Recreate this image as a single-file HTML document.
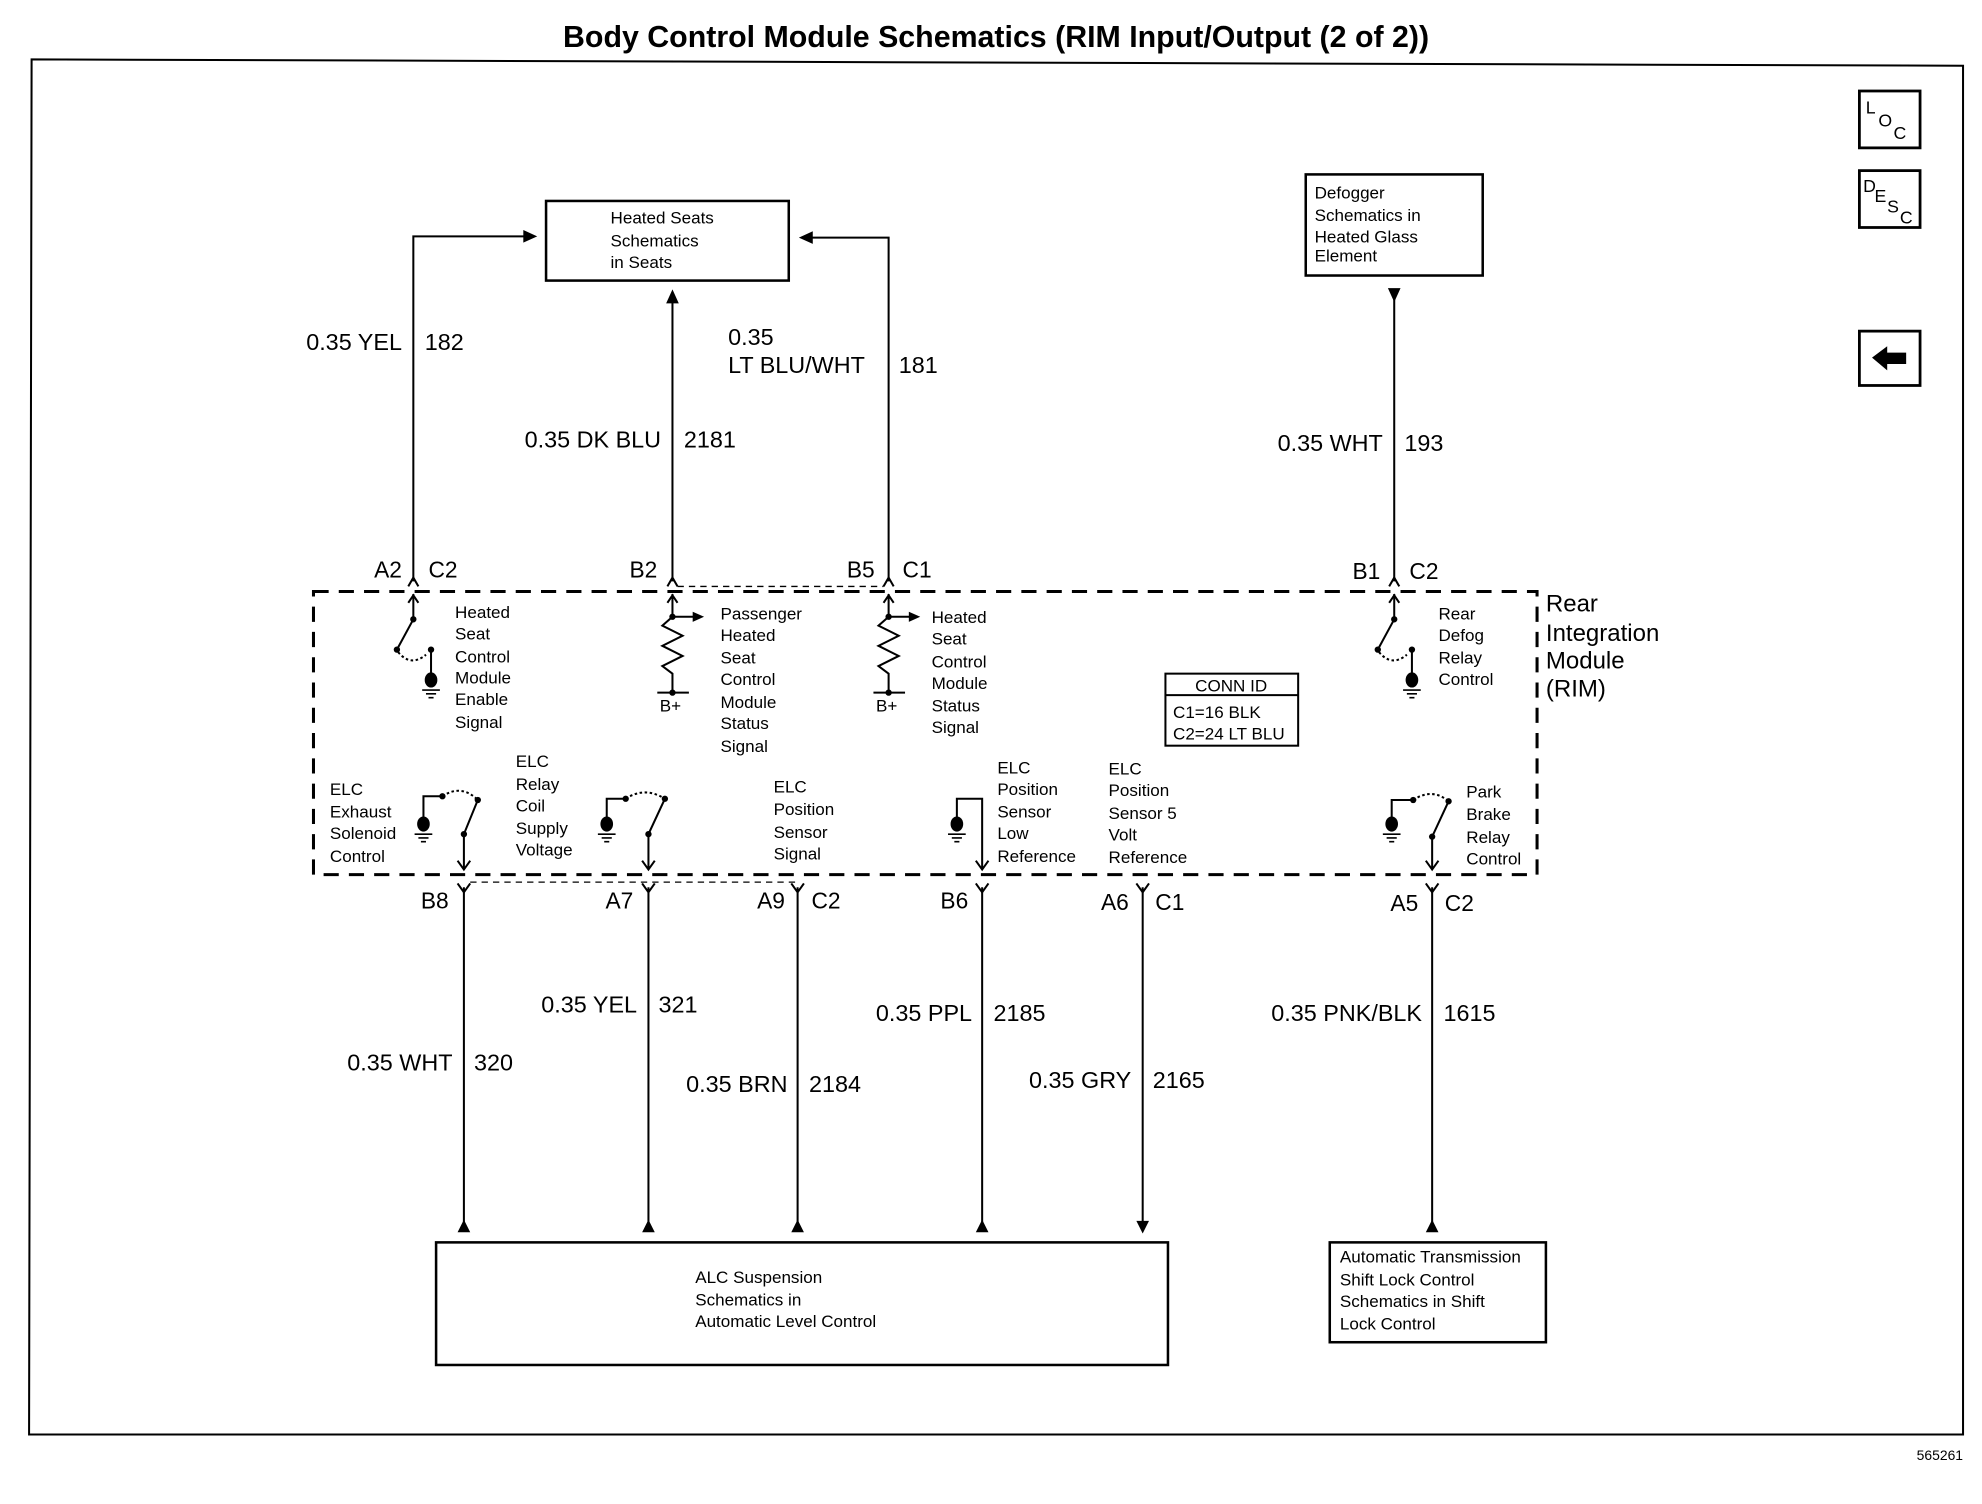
<!DOCTYPE html>
<html><head><meta charset="utf-8"><style>
html,body{margin:0;padding:0;background:#fff;}
svg{display:block;}
text{font-family:"Liberation Sans",sans-serif;fill:#000;}
.w{font-size:18.5px;}
.s{font-size:13.5px;}
.c{font-size:18px;}
</style></head><body>
<svg width="1982" height="1504" viewBox="0 0 1568 1190" preserveAspectRatio="none" xmlns="http://www.w3.org/2000/svg">
<text x="788" y="37" text-anchor="middle" font-size="24" font-weight="bold">Body Control Module Schematics (RIM Input/Output (2 of 2))</text>
<g fill="none" stroke="#000" stroke-width="1.6">
<path d="M25,47 L1553,52 L1553,1135 L23,1135 Z"/>
<rect x="1471" y="72" width="48" height="45" stroke-width="2.2"/>
<rect x="1471" y="135" width="48" height="45" stroke-width="2.2"/>
<rect x="1471" y="262" width="48" height="43" stroke-width="2.2"/>
<rect x="432" y="159" width="192" height="63" stroke-width="2"/>
<rect x="1033" y="138" width="140" height="80" stroke-width="2"/>
<rect x="345" y="983" width="579" height="97" stroke-width="2"/>
<rect x="1052" y="983" width="171" height="79" stroke-width="2"/>
<rect x="922" y="533" width="105" height="57" stroke-width="1.6"/>
<line x1="922" y1="550" x2="1027" y2="550"/>
<rect x="248" y="468" width="968" height="224" stroke-width="2.4" stroke-dasharray="12,8"/>
<!-- top wires -->
<polyline points="327,460 327,187 416,187"/>
<line x1="532" y1="460" x2="532" y2="238"/>
<polyline points="703,460 703,188 641,188"/>
<line x1="1103" y1="460" x2="1103" y2="236"/>
<!-- top chevrons -->
<path d="M323,464 L327,457 L331,464 M528,464 L532,457 L536,464 M699,464 L703,457 L707,464 M1099,464 L1103,457 L1107,464"/>
<line x1="536" y1="464" x2="699" y2="464" stroke-width="1" stroke-dasharray="5,4"/>
<!-- bottom wires -->
<line x1="367" y1="702" x2="367" y2="968"/>
<line x1="513" y1="702" x2="513" y2="968"/>
<line x1="631" y1="702" x2="631" y2="968"/>
<line x1="777" y1="702" x2="777" y2="968"/>
<line x1="904" y1="702" x2="904" y2="968"/>
<line x1="1133" y1="702" x2="1133" y2="968"/>
<path d="M362,699 L367,706 L372,699 M508,699 L513,706 L518,699 M626,699 L631,706 L636,699 M772,699 L777,706 L782,699 M899,699 L904,706 L909,699 M1128,699 L1133,706 L1138,699"/>
<line x1="372" y1="698" x2="631" y2="698" stroke-width="1" stroke-dasharray="5,4"/>
<!-- internal: heated seat switch -->
<line x1="327" y1="470" x2="327" y2="490"/>
<path d="M323,477 L327,471 L331,477"/>
<line x1="327" y1="490" x2="314" y2="514"/>
<path d="M315,516 Q325,528 337,518" stroke-dasharray="2,2"/>
<line x1="341" y1="514" x2="341" y2="542"/>
<!-- resistors -->
<path d="M532,470 L532,488 L524,495 L540,503 L524,511 L540,519 L524,527 L532,533 L532,548 M520,548 L545,548 M528,477 L532,471 L536,477"/>
<line x1="532" y1="488" x2="550" y2="488"/>
<path d="M703,470 L703,488 L695,495 L711,503 L695,511 L711,519 L695,527 L703,533 L703,548 M691,548 L716,548 M699,477 L703,471 L707,477"/>
<line x1="703" y1="488" x2="721" y2="488"/>
<!-- rear defog switch -->
<line x1="1103" y1="470" x2="1103" y2="490"/>
<path d="M1099,477 L1103,471 L1107,477"/>
<line x1="1103" y1="490" x2="1090" y2="514"/>
<path d="M1091,516 Q1101,528 1113,518" stroke-dasharray="2,2"/>
<line x1="1117" y1="514" x2="1117" y2="542"/>
<!-- bottom switches -->
<path d="M335,655 L335,630 L350,630"/><path d="M350,630 Q365,620 378,633" stroke-dasharray="2,2"/>
<path d="M378,633 L367,660 L367,688 M362,681 L367,688 L372,681"/>
<path d="M480,655 L480,632 L495,632"/><path d="M495,632 Q510,622 526,632" stroke-dasharray="2,2"/>
<path d="M526,632 L513,660 L513,688 M508,681 L513,688 L518,681"/>
<path d="M757,655 L757,632 L777,632 L777,688 M772,681 L777,688 L782,681"/>
<path d="M1101,655 L1101,633 L1118,633"/><path d="M1118,633 Q1133,623 1146,634" stroke-dasharray="2,2"/>
<path d="M1146,634 L1133,662 L1133,688 M1128,681 L1133,688 L1138,681"/>
</g>
<g fill="#000">
<path d="M362,975 L367,965 L372,975 Z M508,975 L513,965 L518,975 Z M626,975 L631,965 L636,975 Z M772,975 L777,965 L782,975 Z M1128,975 L1133,965 L1138,975 Z M899,966 L904,976 L909,966 Z"/>
<path d="M527,240 L532,229 L537,240 Z M1098,228 L1103,239 L1108,228 Z M414,182 L425,187 L414,192 Z M643,183 L632,188 L643,193 Z M548,484 L557,488 L548,492 Z M719,484 L728,488 L719,492 Z"/>
<ellipse cx="341" cy="538" rx="5" ry="6"/><ellipse cx="1117" cy="538" rx="5" ry="6"/>
<ellipse cx="335" cy="652" rx="5" ry="6"/><ellipse cx="480" cy="652" rx="5" ry="6"/><ellipse cx="757" cy="652" rx="5" ry="6"/><ellipse cx="1101" cy="652" rx="5" ry="6"/>
<circle cx="327" cy="490" r="2.5"/><circle cx="314" cy="514" r="2.5"/><circle cx="341" cy="514" r="2.5"/>
<circle cx="1103" cy="490" r="2.5"/><circle cx="1090" cy="514" r="2.5"/><circle cx="1117" cy="514" r="2.5"/>
<circle cx="532" cy="488" r="2.5"/><circle cx="532" cy="548" r="2.5"/><circle cx="703" cy="488" r="2.5"/><circle cx="703" cy="548" r="2.5"/>
<circle cx="350" cy="630" r="2.5"/><circle cx="378" cy="633" r="2.5"/><circle cx="367" cy="660" r="2.5"/>
<circle cx="495" cy="632" r="2.5"/><circle cx="526" cy="632" r="2.5"/><circle cx="513" cy="660" r="2.5"/>
<circle cx="1118" cy="633" r="2.5"/><circle cx="1146" cy="634" r="2.5"/><circle cx="1133" cy="662" r="2.5"/>
</g>
<g stroke="#000" stroke-width="1.3">
<path d="M334,546 h14 M337,549 h8 M339,552 h4 M1110,546 h14 M1113,549 h8 M1115,552 h4 M328,660 h14 M331,663 h8 M333,666 h4 M473,660 h14 M476,663 h8 M478,666 h4 M750,660 h14 M753,663 h8 M755,666 h4 M1094,660 h14 M1097,663 h8 M1099,666 h4"/>
</g>
<text x="1476" y="90" font-size="14">L</text><text x="1486" y="100" font-size="14">O</text><text x="1498" y="110" font-size="14">C</text>
<text x="1474" y="152" font-size="14">D</text><text x="1483" y="160" font-size="14">E</text><text x="1493" y="168" font-size="14">S</text><text x="1503" y="177" font-size="14">C</text>
<path d="M1481,283 L1493,274 L1493,279 L1508,279 L1508,288 L1493,288 L1493,293 Z" fill="#000"/>
<g class="s">
<text x="483" y="177">Heated Seats</text><text x="483" y="195">Schematics</text><text x="483" y="212">in Seats</text>
<text x="1040" y="157">Defogger</text><text x="1040" y="175">Schematics in</text><text x="1040" y="192">Heated Glass</text><text x="1040" y="207">Element</text>
<text x="550" y="1015">ALC Suspension</text><text x="550" y="1033">Schematics in</text><text x="550" y="1050">Automatic Level Control</text>
<text x="1060" y="999">Automatic Transmission</text><text x="1060" y="1017">Shift Lock Control</text><text x="1060" y="1034">Schematics in Shift</text><text x="1060" y="1052">Lock Control</text>
<text x="974" y="547" text-anchor="middle">CONN ID</text><text x="928" y="568">C1=16 BLK</text><text x="928" y="585">C2=24 LT BLU</text>
<text x="360" y="489">Heated</text><text x="360" y="506">Seat</text><text x="360" y="524">Control</text><text x="360" y="541">Module</text><text x="360" y="558">Enable</text><text x="360" y="576">Signal</text>
<text x="570" y="490">Passenger</text><text x="570" y="507">Heated</text><text x="570" y="525">Seat</text><text x="570" y="542">Control</text><text x="570" y="560">Module</text><text x="570" y="577">Status</text><text x="570" y="595">Signal</text>
<text x="737" y="493">Heated</text><text x="737" y="510">Seat</text><text x="737" y="528">Control</text><text x="737" y="545">Module</text><text x="737" y="563">Status</text><text x="737" y="580">Signal</text>
<text x="1138" y="490">Rear</text><text x="1138" y="507">Defog</text><text x="1138" y="525">Relay</text><text x="1138" y="542">Control</text>
<text x="522" y="563">B+</text><text x="693" y="563">B+</text>
<text x="261" y="629">ELC</text><text x="261" y="647">Exhaust</text><text x="261" y="664">Solenoid</text><text x="261" y="682">Control</text>
<text x="408" y="607">ELC</text><text x="408" y="625">Relay</text><text x="408" y="642">Coil</text><text x="408" y="660">Supply</text><text x="408" y="677">Voltage</text>
<text x="612" y="627">ELC</text><text x="612" y="645">Position</text><text x="612" y="663">Sensor</text><text x="612" y="680">Signal</text>
<text x="789" y="612">ELC</text><text x="789" y="629">Position</text><text x="789" y="647">Sensor</text><text x="789" y="664">Low</text><text x="789" y="682">Reference</text>
<text x="877" y="613">ELC</text><text x="877" y="630">Position</text><text x="877" y="648">Sensor 5</text><text x="877" y="665">Volt</text><text x="877" y="683">Reference</text>
<text x="1160" y="631">Park</text><text x="1160" y="649">Brake</text><text x="1160" y="667">Relay</text><text x="1160" y="684">Control</text>
</g>
<g font-size="19"><text x="1223" y="484">Rear</text><text x="1223" y="507">Integration</text><text x="1223" y="529">Module</text><text x="1223" y="551">(RIM)</text></g>
<g class="w">
<text x="318" y="277" text-anchor="end">0.35 YEL</text><text x="336" y="277">182</text>
<text x="523" y="354" text-anchor="end">0.35 DK BLU</text><text x="541" y="354">2181</text>
<text x="576" y="273">0.35</text><text x="576" y="295">LT BLU/WHT</text><text x="711" y="295">181</text>
<text x="1094" y="357" text-anchor="end">0.35 WHT</text><text x="1111" y="357">193</text>
<text x="358" y="847" text-anchor="end">0.35 WHT</text><text x="375" y="847">320</text>
<text x="504" y="801" text-anchor="end">0.35 YEL</text><text x="521" y="801">321</text>
<text x="623" y="864" text-anchor="end">0.35 BRN</text><text x="640" y="864">2184</text>
<text x="769" y="808" text-anchor="end">0.35 PPL</text><text x="786" y="808">2185</text>
<text x="895" y="861" text-anchor="end">0.35 GRY</text><text x="912" y="861">2165</text>
<text x="1125" y="808" text-anchor="end">0.35 PNK/BLK</text><text x="1142" y="808">1615</text>
</g>
<g class="c">
<text x="318" y="457" text-anchor="end">A2</text><text x="339" y="457">C2</text>
<text x="520" y="457" text-anchor="end">B2</text>
<text x="692" y="457" text-anchor="end">B5</text><text x="714" y="457">C1</text>
<text x="1092" y="458" text-anchor="end">B1</text><text x="1115" y="458">C2</text>
<text x="355" y="719" text-anchor="end">B8</text>
<text x="501" y="719" text-anchor="end">A7</text>
<text x="621" y="719" text-anchor="end">A9</text><text x="642" y="719">C2</text>
<text x="766" y="719" text-anchor="end">B6</text>
<text x="893" y="720" text-anchor="end">A6</text><text x="914" y="720">C1</text>
<text x="1122" y="721" text-anchor="end">A5</text><text x="1143" y="721">C2</text>
</g>
<text x="1553" y="1155" text-anchor="end" font-size="11">565261</text>
</svg>
</body></html>
